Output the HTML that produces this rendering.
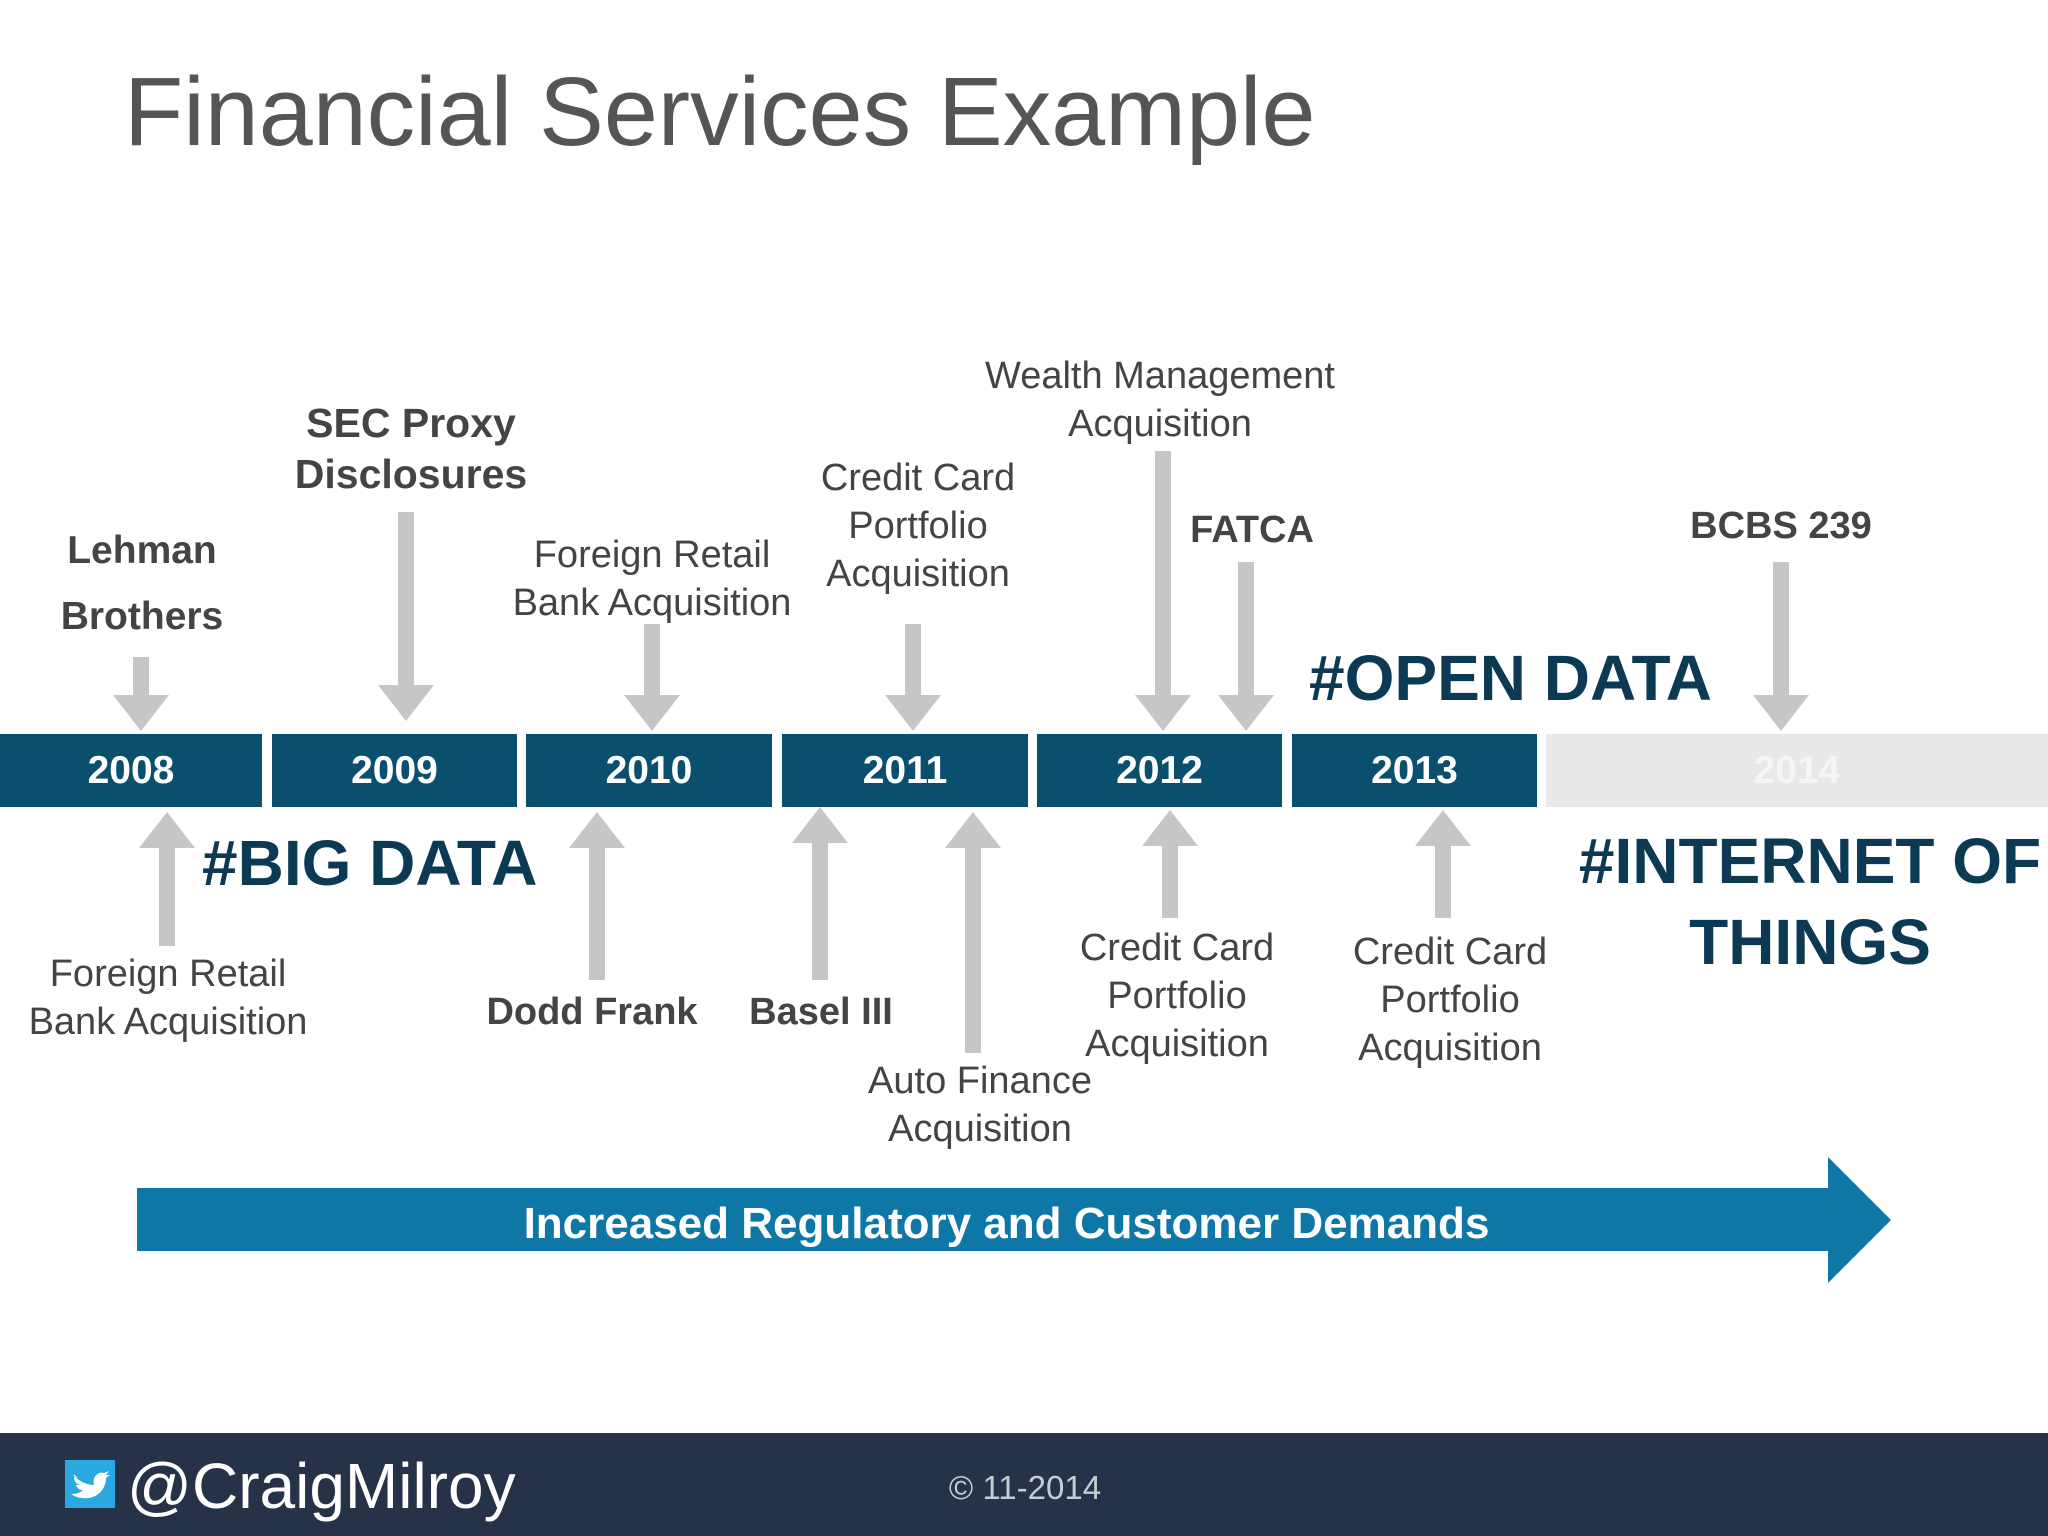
<!DOCTYPE html>
<html><head><meta charset="utf-8"><style>
body{margin:0;width:2048px;height:1536px;position:relative;background:#fff;overflow:hidden;font-family:"Liberation Sans","DejaVu Sans",sans-serif}
.a{position:absolute}
.t{position:absolute;width:600px;text-align:center;font-size:38px;line-height:48px;color:#444}
.b{font-weight:bold}
.seg{position:absolute;top:734px;height:73px;background:#0a4f6e;color:#fff;font-weight:bold;font-size:39px;line-height:73px;text-align:center}
.h{position:absolute;font-weight:bold;color:#0c3a55;font-size:64px;line-height:80px;white-space:nowrap}
</style></head><body>
<div class="a" style="left:124px;top:52px;font-size:97px;color:#555;white-space:nowrap;line-height:120px">Financial Services Example</div>

<div class="seg" style="left:0;width:262px">2008</div>
<div class="seg" style="left:272px;width:245px">2009</div>
<div class="seg" style="left:526px;width:246px">2010</div>
<div class="seg" style="left:782px;width:246px">2011</div>
<div class="seg" style="left:1037px;width:245px">2012</div>
<div class="seg" style="left:1292px;width:245px">2013</div>
<div class="seg" style="left:1546px;width:502px;background:#e6e8ea;color:#f4f5f6">2014</div>

<svg class="a" style="left:0;top:0" width="2048" height="1536">
<g fill="#c6c6c6">
<path d="M133 657h16v38h20l-28 36l-28-36h20z"/>
<path d="M398 512h16v173h20l-28 36l-28-36h20z"/>
<path d="M644 624h16v71h20l-28 36l-28-36h20z"/>
<path d="M905 624h16v71h20l-28 36l-28-36h20z"/>
<path d="M1155 451h16v244h20l-28 36l-28-36h20z"/>
<path d="M1238 562h16v133h20l-28 36l-28-36h20z"/>
<path d="M1773 562h16v133h20l-28 36l-28-36h20z"/>
<path d="M159 946h16v-98h20l-28-36l-28 36h20z"/>
<path d="M589 980h16v-132h20l-28-36l-28 36h20z"/>
<path d="M812 980h16v-137h20l-28-36l-28 36h20z"/>
<path d="M965 1053h16v-205h20l-28-36l-28 36h20z"/>
<path d="M1162 918h16v-72h20l-28-36l-28 36h20z"/>
<path d="M1435 918h16v-72h20l-28-36l-28 36h20z"/>
</g>
<path d="M137 1188H1828V1157L1891 1220L1828 1283V1251H137Z" fill="#0e77a6"/>
<rect x="0" y="1433" width="2048" height="103" fill="#263248"/>
<rect x="65" y="1460" width="50" height="48" fill="#29a9e0"/>
<path d="M74 1476c6 6 14 9 20 9c-2-8 4-14 10-12l5-2l-3 4l4 0l-4 3c0 12-10 22-24 20c-4 0-8-2-11-4c5 0 9-1 12-4c-4 0-6-2-7-5h4c-4-1-6-4-6-8l4 1c-3-2-5-6-4-2z" fill="#fff"/>
</svg>

<div class="t b" style="left:-158px;top:518px;line-height:66px;font-size:39px">Lehman<br>Brothers</div>
<div class="t b" style="left:111px;top:398px;line-height:51px;font-size:41px">SEC Proxy<br>Disclosures</div>
<div class="t" style="left:352px;top:531px">Foreign Retail<br>Bank Acquisition</div>
<div class="t" style="left:618px;top:454px">Credit Card<br>Portfolio<br>Acquisition</div>
<div class="t" style="left:860px;top:352px">Wealth Management<br>Acquisition</div>
<div class="t b" style="left:952px;top:506px">FATCA</div>
<div class="t b" style="left:1481px;top:502px">BCBS 239</div>
<div class="h" style="left:1309px;top:638px">#OPEN DATA</div>
<div class="h" style="left:202px;top:823px">#BIG DATA</div>
<div class="h" style="left:1510px;top:821px;width:600px;text-align:center;line-height:81px">#INTERNET OF<br>THINGS</div>
<div class="t" style="left:-132px;top:950px">Foreign Retail<br>Bank Acquisition</div>
<div class="t b" style="left:292px;top:988px">Dodd Frank</div>
<div class="t b" style="left:521px;top:988px">Basel III</div>
<div class="t" style="left:680px;top:1057px">Auto Finance<br>Acquisition</div>
<div class="t" style="left:877px;top:924px">Credit Card<br>Portfolio<br>Acquisition</div>
<div class="t" style="left:1150px;top:928px">Credit Card<br>Portfolio<br>Acquisition</div>

<div class="a" style="left:161px;width:1691px;top:1194px;line-height:60px;text-align:center;color:#fff;font-weight:bold;font-size:44px">Increased Regulatory and Customer Demands</div>
<div class="a" style="left:127px;top:1448px;font-size:64px;line-height:76px;color:#fff">@CraigMilroy</div>
<div class="a" style="left:900px;width:250px;text-align:center;top:1468px;font-size:33px;line-height:40px;color:#c8ccd2">© 11-2014</div>
</body></html>
